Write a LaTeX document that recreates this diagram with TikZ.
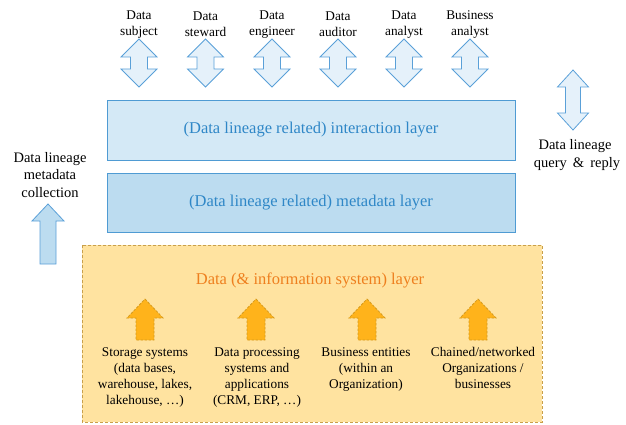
\documentclass[tikz,border=0pt]{standalone}
\usepackage{fontspec}
\setmainfont{Liberation Serif}
\definecolor{arrfill}{HTML}{E5F1FA}
\definecolor{arrline}{HTML}{5AA0D8}
\definecolor{intfill}{HTML}{D4E9F6}
\definecolor{metafill}{HTML}{BCDCF0}
\definecolor{boxline}{HTML}{4F9BD3}
\definecolor{bluetext}{HTML}{2F87C7}
\definecolor{datafill}{HTML}{FFE3A0}
\definecolor{dataline}{HTML}{C9A04A}
\definecolor{orarrfill}{HTML}{FFB31B}
\definecolor{orarrline}{HTML}{D49A1D}
\definecolor{ortext}{HTML}{EE7F1E}
\newcommand\DArrow[7]{% style, cx, top, bottom, head half width, shaft half width, head length
  \draw[#1] (#2,#3) -- ({#2+#5},{#3+#7}) -- ({#2+#6},{#3+#7}) -- ({#2+#6},{#4-#7})
    -- ({#2+#5},{#4-#7}) -- (#2,#4) -- ({#2-#5},{#4-#7}) -- ({#2-#6},{#4-#7})
    -- ({#2-#6},{#3+#7}) -- ({#2-#5},{#3+#7}) -- cycle;}
\newcommand\UArrow[7]{% style, cx, top, bottom, head half width, shaft half width, head length
  \draw[#1] (#2,#3) -- ({#2+#5},{#3+#7}) -- ({#2+#6},{#3+#7}) -- ({#2+#6},#4)
    -- ({#2-#6},#4) -- ({#2-#6},{#3+#7}) -- ({#2-#5},{#3+#7}) -- cycle;}
\tikzset{
  role/.style={align=center, font=\fontsize{13.3}{16}\selectfont, inner sep=0pt},
  sidelabel/.style={align=center, font=\fontsize{14.5}{17.5}\selectfont, inner sep=0pt},
  srclabel/.style={align=center, font=\fontsize{13.3}{16}\selectfont, inner sep=0pt, anchor=north},
  layertext/.style={font=\fontsize{16.5}{19}\selectfont, inner sep=0pt},
  blarrow/.style={fill=arrfill, draw=arrline, line width=0.8pt, line join=miter},
  blupar/.style={fill=metafill, draw=arrline, line width=0.8pt, line join=miter},
  orarrow/.style={fill=orarrfill, draw=orarrline, line width=0.8pt, dash pattern=on 2.5pt off 1.5pt},
}
\begin{document}
\begin{tikzpicture}[x=1pt,y=-1pt]
\useasboundingbox (0,0) rectangle (626,425);
% layers
\draw[fill=intfill, draw=boxline, line width=0.8pt] (107,100) rectangle (515,160);
\node[layertext, text=bluetext] (inter) at (311,130) {(Data lineage related) interaction layer};
\draw[fill=metafill, draw=boxline, line width=0.8pt] (107,173) rectangle (515,232);
\node[layertext, text=bluetext] (meta) at (311,203) {(Data lineage related) metadata layer};
\draw[fill=datafill, draw=dataline, line width=0.8pt, dash pattern=on 3pt off 2pt] (82,245) rectangle (542,422);
\node[layertext, text=ortext] (datal) at (310,280) {Data (\& information system) layer};
% top roles
\foreach \cx/\a/\b [count=\i] in {139/Data/subject, 205.5/Data/steward, 272/Data/engineer, 338/Data/auditor, 404/Data/analyst, 470/Business/analyst}{
  \node[role] (role\i) at (\cx,24.5) {\a\\\b};
  \DArrow{blarrow}{\cx}{39}{87}{18}{8.5}{18}
}
% right query arrow
\DArrow{blarrow}{573}{70}{130}{15.5}{7.5}{17}
\node[sidelabel] (query) at (577,155) {\hspace*{-4pt}Data lineage\\query\hspace{6pt}\&\hspace{6pt}reply};
% left collection
\node[sidelabel] (collect) at (50,175) {Data lineage\\metadata\\collection};
\UArrow{blupar}{48}{204}{264}{16}{8}{17}
% orange arrows
\foreach \cx in {145,256,367,478}{
  \UArrow{orarrow}{\cx}{299}{340}{18}{9}{19}
}
\node[srclabel] (stor) at (145,347) {Storage systems\\(data bases,\\warehouse, lakes,\\lakehouse, \dots)};
\node[srclabel] (proc) at (257,347) {Data processing\\systems and\\applications\\(CRM, ERP, \dots)};
\node[srclabel] (bus) at (366,347) {Business entities\\(within an\\Organization)};
\node[srclabel] (chain) at (483,347) {Chained/networked\\Organizations /\\businesses};
\end{tikzpicture}
\end{document}
